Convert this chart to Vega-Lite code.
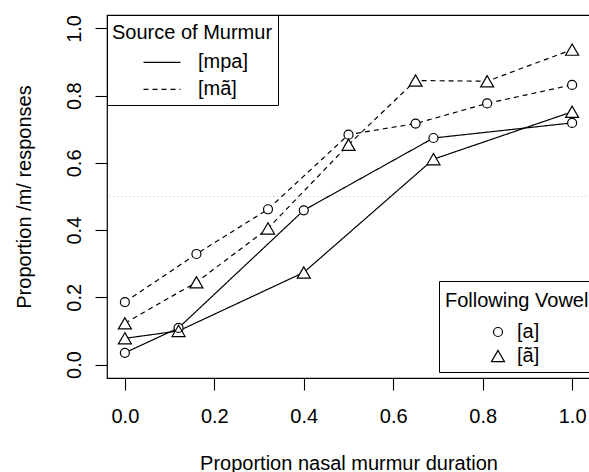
{
  "$schema": "https://vega.github.io/schema/vega-lite/v6.json",
  "width": 483,
  "height": 363,
  "autosize": {"type": "none"},
  "padding": {"left": 107, "top": 15, "right": 0, "bottom": 94},
  "background": "white",
  "config": {
    "font": "Liberation Sans",
    "view": {"stroke": "black", "strokeWidth": 1.2}
  },
  "data": {
    "values": [
      {"source": "[mpa]", "vowel": "[a]", "x": 0.0, "y": 0.035},
      {"source": "[mpa]", "vowel": "[a]", "x": 0.12, "y": 0.109},
      {"source": "[mpa]", "vowel": "[a]", "x": 0.40, "y": 0.459},
      {"source": "[mpa]", "vowel": "[a]", "x": 0.69, "y": 0.674},
      {"source": "[mpa]", "vowel": "[a]", "x": 1.0, "y": 0.719},
      {"source": "[mpa]", "vowel": "[ã]", "x": 0.0, "y": 0.078},
      {"source": "[mpa]", "vowel": "[ã]", "x": 0.12, "y": 0.100},
      {"source": "[mpa]", "vowel": "[ã]", "x": 0.40, "y": 0.274},
      {"source": "[mpa]", "vowel": "[ã]", "x": 0.69, "y": 0.611},
      {"source": "[mpa]", "vowel": "[ã]", "x": 1.0, "y": 0.752},
      {"source": "[mã]", "vowel": "[a]", "x": 0.0, "y": 0.186},
      {"source": "[mã]", "vowel": "[a]", "x": 0.16, "y": 0.329},
      {"source": "[mã]", "vowel": "[a]", "x": 0.32, "y": 0.462},
      {"source": "[mã]", "vowel": "[a]", "x": 0.50, "y": 0.684},
      {"source": "[mã]", "vowel": "[a]", "x": 0.65, "y": 0.717},
      {"source": "[mã]", "vowel": "[a]", "x": 0.81, "y": 0.777},
      {"source": "[mã]", "vowel": "[a]", "x": 1.0, "y": 0.832},
      {"source": "[mã]", "vowel": "[ã]", "x": 0.0, "y": 0.123},
      {"source": "[mã]", "vowel": "[ã]", "x": 0.16, "y": 0.245},
      {"source": "[mã]", "vowel": "[ã]", "x": 0.32, "y": 0.405},
      {"source": "[mã]", "vowel": "[ã]", "x": 0.50, "y": 0.654},
      {"source": "[mã]", "vowel": "[ã]", "x": 0.65, "y": 0.845},
      {"source": "[mã]", "vowel": "[ã]", "x": 0.81, "y": 0.843},
      {"source": "[mã]", "vowel": "[ã]", "x": 1.0, "y": 0.937}
    ]
  },
  "layer": [
    {
      "mark": {"type": "rule", "color": "#c4c4c4", "strokeDash": [1, 3], "strokeWidth": 1},
      "encoding": {
        "y": {
          "datum": 0.5, "type": "quantitative",
          "scale": {"domain": [-0.04, 1.04], "nice": false, "zero": false},
          "axis": {
            "values": [0, 0.2, 0.4, 0.6, 0.8, 1.0], "format": ".1f",
            "grid": false, "domain": false,
            "tickSize": 12, "tickColor": "black", "tickWidth": 1.1,
            "labelFontSize": 20, "labelColor": "black", "labelPadding": 15,
            "labelAngle": 270, "labelAlign": "center", "labelBaseline": "alphabetic",
            "labelFlush": false, "labelOverlap": false,
            "title": "Proportion /m/ responses",
            "titleFontSize": 20, "titleFontWeight": "normal", "titleColor": "black",
            "titleAngle": 270, "titleAlign": "center", "titleBaseline": "alphabetic",
            "titleX": -77, "titleY": 181.5
          }
        }
      }
    },
    {
      "mark": {"type": "line", "color": "black", "strokeWidth": 1.2},
      "encoding": {
        "x": {
          "field": "x", "type": "quantitative",
          "scale": {"domain": [-0.04, 1.04], "nice": false, "zero": false},
          "axis": {
            "values": [0, 0.2, 0.4, 0.6, 0.8, 1.0], "format": ".1f",
            "grid": false, "domain": false,
            "tickSize": 12, "tickColor": "black", "tickWidth": 1.1,
            "labelFontSize": 20, "labelColor": "black", "labelPadding": 16,
            "labelFlush": false, "labelOverlap": false,
            "title": "Proportion nasal murmur duration",
            "titleFontSize": 20, "titleFontWeight": "normal", "titleColor": "black",
            "titleY": 91, "titleBaseline": "alphabetic"
          }
        },
        "y": {
          "field": "y", "type": "quantitative",
          "scale": {"domain": [-0.04, 1.04], "nice": false, "zero": false},
          "axis": {
            "values": [0, 0.2, 0.4, 0.6, 0.8, 1.0], "format": ".1f",
            "grid": false, "domain": false,
            "tickSize": 12, "tickColor": "black", "tickWidth": 1.1,
            "labelFontSize": 20, "labelColor": "black", "labelPadding": 15,
            "labelAngle": 270, "labelAlign": "center", "labelBaseline": "alphabetic",
            "labelFlush": false, "labelOverlap": false,
            "title": "Proportion /m/ responses",
            "titleFontSize": 20, "titleFontWeight": "normal", "titleColor": "black",
            "titleAngle": 270, "titleAlign": "center", "titleBaseline": "alphabetic",
            "titleX": -77, "titleY": 181.5
          }
        },
        "detail": {"field": "vowel", "type": "nominal"},
        "strokeDash": {
          "field": "source", "type": "nominal",
          "scale": {"domain": ["[mpa]", "[mã]"], "range": [[1, 0], [5, 4]]},
          "legend": {
            "title": "Source of Murmur",
            "orient": "top-left", "offset": 0, "padding": 5,
            "strokeColor": "black", "fillColor": "white",
            "titleFontSize": 20, "titleFontWeight": "normal", "titleColor": "black",
            "titleBaseline": "line-top", "titleLineHeight": 27, "titlePadding": 12.3,
            "labelFontSize": 20, "labelColor": "black",
            "symbolType": "M-3,0L3,0", "symbolSize": 152,
            "symbolStrokeColor": "black", "symbolStrokeWidth": 1.2,
            "symbolOffset": 40, "labelOffset": 26, "rowPadding": 7
          }
        }
      }
    },
    {
      "transform": [{"filter": "datum.vowel == '[a]'"}],
      "mark": {"type": "point", "filled": true, "color": "white", "opacity": 1, "strokeWidth": 0, "size": 324,
               "shape": "M0,-0.5A0.5,0.5 0 1,1 0,0.5A0.5,0.5 0 1,1 0,-0.5Z"},
      "encoding": {
        "x": {"field": "x", "type": "quantitative"},
        "y": {"field": "y", "type": "quantitative"}
      }
    },
    {
      "transform": [{"filter": "datum.vowel != '[a]'"}],
      "mark": {"type": "point", "filled": true, "color": "white", "opacity": 1, "strokeWidth": 0, "size": 324,
               "shape": "M0,-0.625L-0.722,0.625L0.722,0.625Z"},
      "encoding": {
        "x": {"field": "x", "type": "quantitative"},
        "y": {"field": "y", "type": "quantitative"}
      }
    },
    {
      "mark": {"type": "point", "filled": false, "color": "black", "opacity": 1, "strokeWidth": 1.2, "size": 324},
      "encoding": {
        "x": {"field": "x", "type": "quantitative"},
        "y": {"field": "y", "type": "quantitative"},
        "shape": {
          "field": "vowel", "type": "nominal",
          "scale": {
            "domain": ["[a]", "[ã]"],
            "range": [
              "M0,-0.5A0.5,0.5 0 1,1 0,0.5A0.5,0.5 0 1,1 0,-0.5Z",
              "M0,-0.625L-0.722,0.625L0.722,0.625Z"
            ]
          },
          "legend": {
            "title": "Following Vowel",
            "orient": "none", "legendX": 332, "legendY": 266, "padding": 6,
            "strokeColor": "black", "fillColor": "white",
            "titleFontSize": 20, "titleFontWeight": "normal", "titleColor": "black",
            "titleBaseline": "line-top", "titleLineHeight": 28, "titlePadding": 15,
            "labelFontSize": 20, "labelColor": "black",
            "symbolType": "circle", "symbolSize": 324,
            "symbolStrokeColor": "black", "symbolStrokeWidth": 1.2,
            "symbolOffset": 43, "labelOffset": 9, "rowPadding": 4
          }
        }
      }
    }
  ]
}
